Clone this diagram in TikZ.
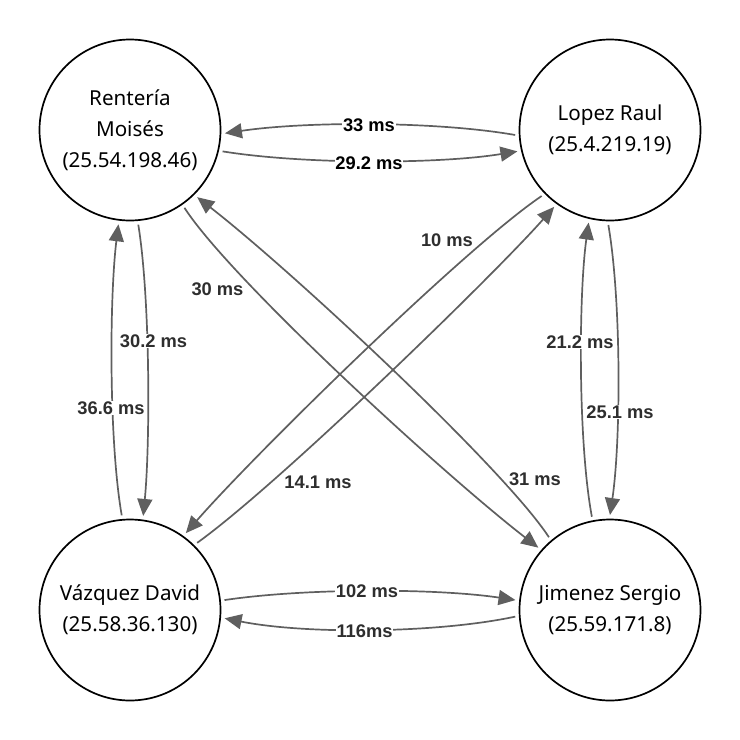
\documentclass[tikz,border=0pt]{standalone}
\usepackage{fontspec}
\setmainfont{Noto Sans}
\newfontfamily\lblfont{Liberation Sans}
\usetikzlibrary{arrows.meta}
\definecolor{linkgray}{HTML}{5F5F5F}
\definecolor{lblgray}{HTML}{2E2E2E}
\begin{document}
\begin{tikzpicture}[x=1pt,y=-1pt,
  host/.style={circle, draw=black, line width=1.7pt, minimum size=181pt, inner sep=0pt, outer sep=4.5pt, align=center, font=\fontsize{20.6}{31}\selectfont},
  link/.style={draw=linkgray, line width=1.7pt, -{Triangle[length=17pt,width=15pt]}},
  lbl/.style={fill=white, inner sep=0.6pt, text=lblgray, font=\lblfont\bfseries\fontsize{18.3}{20}\selectfont}]
\useasboundingbox (0,0) rectangle (740,740);
\node[host] (tl) at (130,130) {Renter\'ia\\Mois\'es\\(25.54.198.46)};
\node[host] (tr) at (610,130) {Lopez Raul\\(25.4.219.19)};
\node[host] (bl) at (130,610) {V\'azquez David\\(25.58.36.130)};
\node[host] (br) at (610,610) {Jimenez Sergio\\(25.59.171.8)};
% horizontal pairs
\draw[link] (tr.183) .. controls +(-80,-14) and +(80,-12) .. (tl.-2);
\draw[link] (tl.-13) .. controls +(80,13) and +(-80,13) .. (tr.193);
\draw[link] (bl.6) .. controls +(80,-12) and +(-80,-12) .. (br.174);
\draw[link] (br.184) .. controls +(-80,17) and +(80,16) .. (bl.-5);
% vertical pairs
\draw[link] (tl.-85) .. controls +(12,74) and +(7,-73) .. (bl.82);
\draw[link] (bl.95) .. controls +(-13,-75) and +(-9,73) .. (tl.-97);
\draw[link] (tr.-91) .. controls +(13,75) and +(11,-75) .. (br.90);
\draw[link] (br.101) .. controls +(-14,-75) and +(-10,72) .. (tr.-103);
% diagonals
\draw[link] (tl.-55) .. controls +(45,70) and +(-98,-76) .. (br.139);
\draw[link] (br.130) .. controls +(-45,-69) and +(94,73) .. (tl.-45);
\draw[link] (tr.224) .. controls +(-77,52) and +(67,-77) .. (bl.54.5);
\draw[link] (bl.45) .. controls +(81,-58) and +(-61,69) .. (tr.-126);
% labels
\node[lbl, text=black] (l33) at (369,125) {33 ms};
\node[lbl, text=black] (l292) at (369,163) {29.2 ms};
\node[lbl] (l102) at (367,591) {102 ms};
\node[lbl] (l116) at (364.5,631) {116ms};
\node[lbl] (l302) at (153.5,341) {30.2 ms};
\node[lbl] (l366) at (111,408) {36.6 ms};
\node[lbl] (l212) at (580,342) {21.2 ms};
\node[lbl] (l251) at (620,412) {25.1 ms};
\node[lbl] (l30) at (217.5,289) {30 ms};
\node[lbl] (l10) at (447,240) {10 ms};
\node[lbl] (l141) at (318,482) {14.1 ms};
\node[lbl] (l31) at (535,479) {31 ms};
\end{tikzpicture}
\end{document}
